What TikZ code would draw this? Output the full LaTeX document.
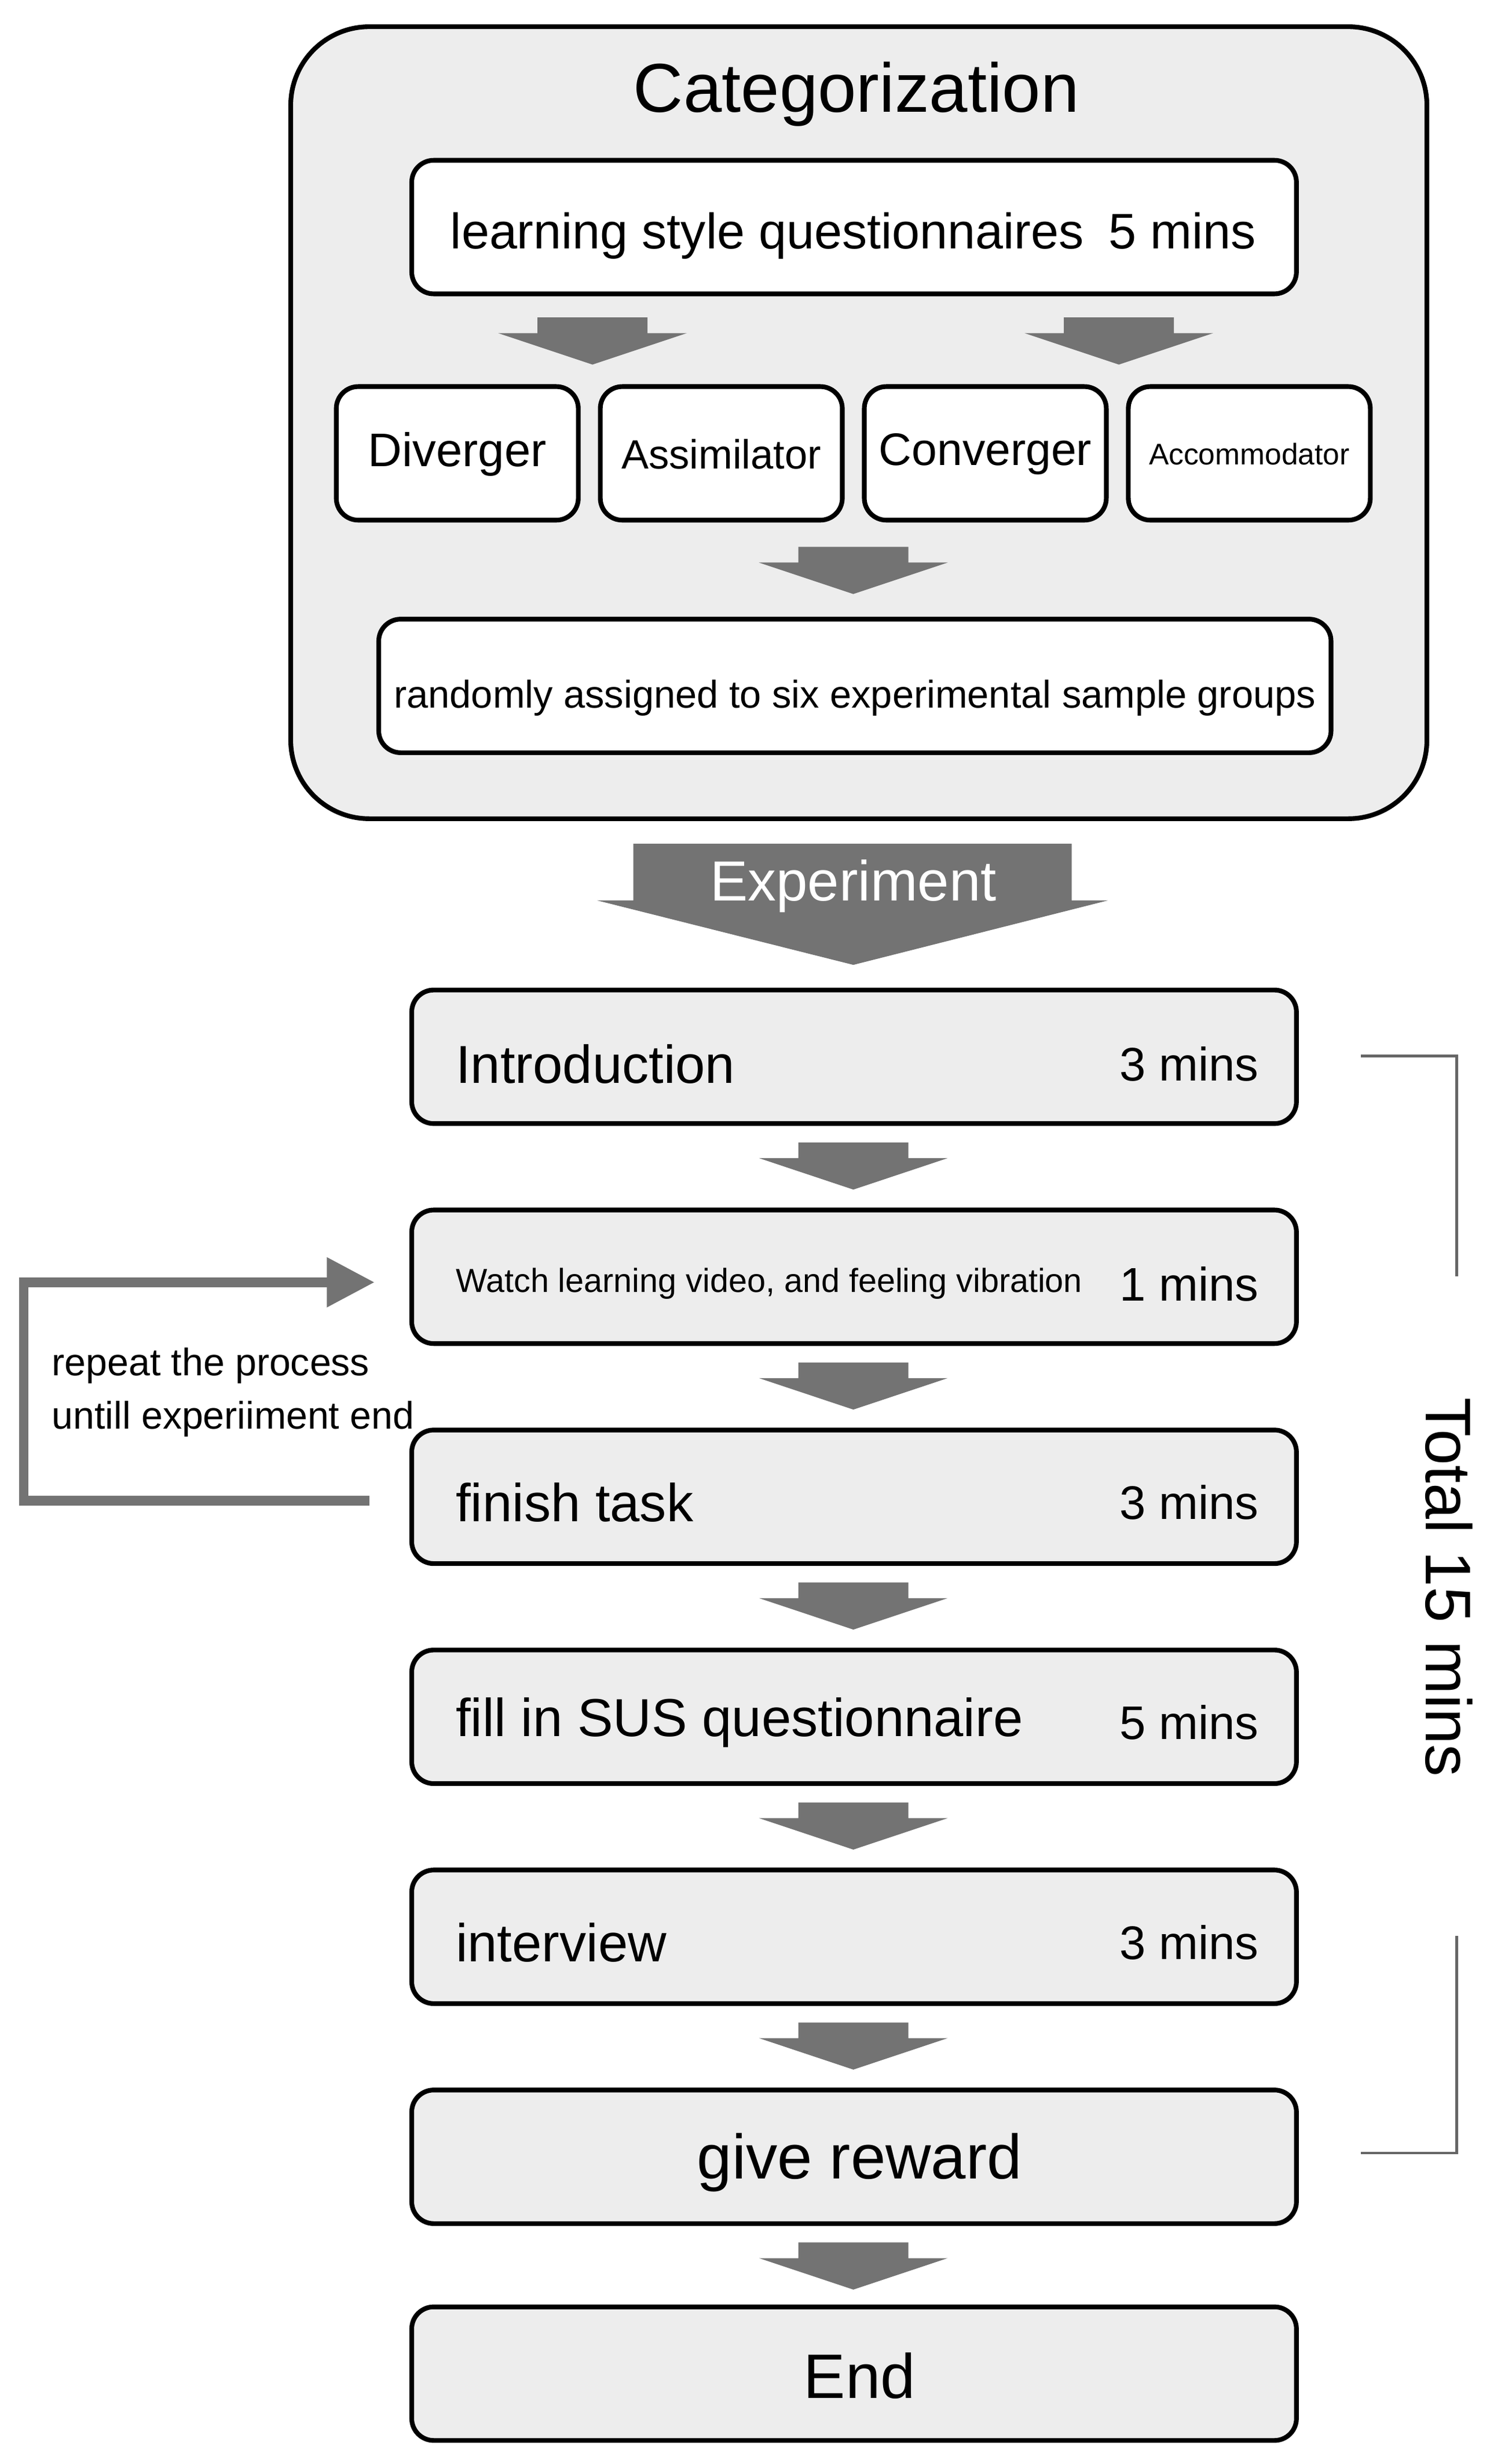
\documentclass[tikz,border=0pt]{standalone}
\usepackage{fontspec}
\setmainfont{Liberation Sans}
\begin{document}
\begin{tikzpicture}[x=0.5pt,y=-0.5pt,
 wbox/.style={draw=black,line width=1.5pt,rounded corners=7pt,fill=white},
 gbox/.style={draw=black,line width=1.5pt,rounded corners=7pt,fill=black!7},
 garrow/.style={fill=black!55,draw=none}]
\useasboundingbox (0,0) rectangle (955,1568);
\newcommand{\chev}[3]{% x, y top, name
 \fill[black!55] (#1-35,#2) -- (#1+35,#2) -- (#1+35,#2+10) -- (#1+60,#2+10) -- (#1,#2+30) -- (#1-60,#2+10) -- (#1-35,#2+10) -- cycle;
 \coordinate (#3) at (#1,#2);}
% outer
\draw[line width=1.5pt,rounded corners=25pt,fill=black!7] (185,17) rectangle (908,521);
\node (cat) at (545,60) {\fontsize{22pt}{24pt}\selectfont Categorization};
\draw[wbox] (262,102) rectangle (825,187);
\node (lsq) at (543,150) {\fontsize{15.9pt}{17pt}\selectfont learning style questionnaires\hspace{8pt}5 mins};
\chev{377}{202}{a1}\chev{712}{202}{a2}
\draw[wbox] (214,246) rectangle (368,331); \node (d) at (291,289) {\fontsize{15pt}{17pt}\selectfont Diverger};
\draw[wbox] (382,246) rectangle (536,331); \node (as) at (459,289) {\fontsize{13pt}{15pt}\selectfont Assimilator};
\draw[wbox] (550,246) rectangle (704,331); \node (cv) at (627,289) {\fontsize{14.5pt}{16pt}\selectfont Converger};
\draw[wbox] (718,246) rectangle (872,331); \node (ac) at (795,289) {\fontsize{9.5pt}{11pt}\selectfont Accommodator};
\chev{543}{348}{a3}
\draw[wbox] (241,394) rectangle (847,479);
\node (rnd) at (544,444) {\fontsize{12.3pt}{13pt}\selectfont randomly assigned to six experimental sample groups};
% experiment arrow
\fill[black!55] (403,537) -- (682,537) -- (682,573) -- (705,573) -- (543,614) -- (380,573) -- (403,573) -- cycle;
\node[text=white] (exp) at (543,564) {\fontsize{18pt}{20pt}\selectfont Experiment};
% step boxes
\foreach \y in {630,770,910,1050,1190,1330,1468} \draw[gbox] (262,\y) rectangle (825,\y+85);
\node[anchor=west] (i1) at (283,677) {\fontsize{17pt}{19pt}\selectfont Introduction};
\node[anchor=east] (i2) at (808,677) {\fontsize{15pt}{17pt}\selectfont 3 mins};
\node[anchor=west] (w1) at (283,817) {\fontsize{10.6pt}{12pt}\selectfont Watch learning video, and feeling vibration};
\node[anchor=east] (w2) at (808,817) {\fontsize{15pt}{17pt}\selectfont 1 mins};
\node[anchor=west] (f1) at (283,956) {\fontsize{17pt}{19pt}\selectfont finish task};
\node[anchor=east] (f2) at (808,956) {\fontsize{15pt}{17pt}\selectfont 3 mins};
\node[anchor=west] (s1) at (283,1096) {\fontsize{17pt}{19pt}\selectfont fill in SUS questionnaire};
\node[anchor=east] (s2) at (808,1096) {\fontsize{15pt}{17pt}\selectfont 5 mins};
\node[anchor=west] (v1) at (283,1236) {\fontsize{17pt}{19pt}\selectfont interview};
\node[anchor=east] (v2) at (808,1236) {\fontsize{15pt}{17pt}\selectfont 3 mins};
\node (gr) at (547,1376) {\fontsize{20pt}{22pt}\selectfont give reward};
\node (end) at (547,1512) {\fontsize{20pt}{22pt}\selectfont End};
\chev{543}{727}{b1}\chev{543}{867}{b2}\chev{543}{1007}{b3}\chev{543}{1147}{b4}\chev{543}{1287}{b5}\chev{543}{1427}{b6}
% loop
\coordinate (l1) at (235,955); \coordinate (l2) at (15,955); \coordinate (l3) at (15,816); \coordinate (l4) at (210,816);
\draw[black!55,line width=3pt] (l1) -- (l2) -- (l3) -- (l4);
\fill[black!55] (208,800) -- (238,816) -- (208,832) -- cycle;
\node[anchor=west,align=left,font=\fontsize{12.2pt}{17pt}\selectfont] (rep) at (26,886) {repeat the process\\untill experiiment end};
% bracket
\coordinate (k1) at (866,672); \coordinate (k2) at (927,672); \coordinate (k3) at (927,812);
\coordinate (k4) at (927,1232); \coordinate (k5) at (927,1370); \coordinate (k6) at (866,1370);
\draw[black!60,line width=0.8pt] (k1) -- (k2) -- (k3);
\draw[black!60,line width=0.8pt] (k4) -- (k5) -- (k6);
\node[rotate=-90] (tot) at (922,1010) {\fontsize{20.5pt}{22pt}\selectfont Total 15 mins};
\end{tikzpicture}
\end{document}
